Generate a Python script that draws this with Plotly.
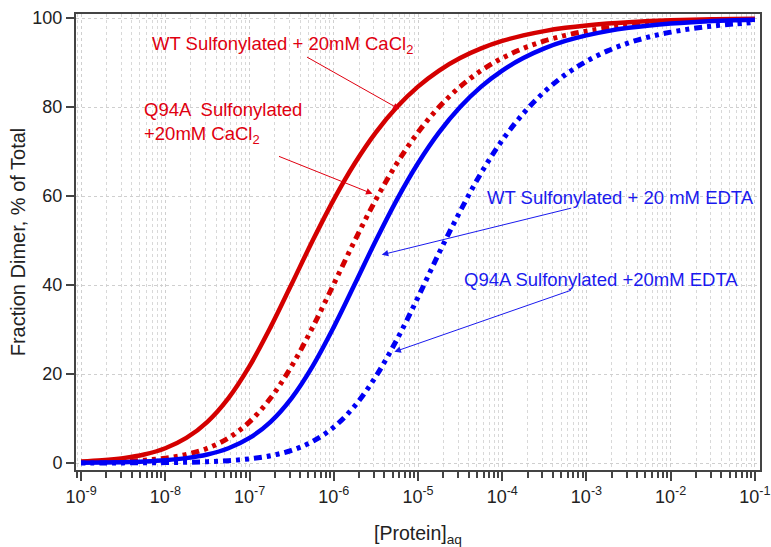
import plotly.graph_objects as go

# log10 of protein concentration (x grid)
log_conc = [-9 + 0.25 * i for i in range(33)]
conc = [10 ** v for v in log_conc]

# Fraction dimer (% of total)
wt_cacl2 = [0.353, 0.625, 1.10, 1.92, 3.32, 5.63, 9.26, 14.59, 21.77, 30.53, 40.21, 50.0,
            59.20, 67.36, 74.30, 80.0, 84.58, 88.19, 91.00, 93.17, 94.84, 96.10, 97.06,
            97.79, 98.34, 98.75, 99.06, 99.30, 99.47, 99.60, 99.70, 99.78, 99.83]
q94a_cacl2 = [0.112, 0.199, 0.353, 0.625, 1.10, 1.92, 3.32, 5.63, 9.26, 14.59, 21.77, 30.53,
              40.21, 50.0, 59.20, 67.36, 74.30, 80.0, 84.58, 88.19, 91.00, 93.17, 94.84,
              96.10, 97.06, 97.79, 98.34, 98.75, 99.06, 99.30, 99.47, 99.60, 99.70]
wt_edta = [0.063, 0.112, 0.199, 0.353, 0.625, 1.10, 1.92, 3.32, 5.63, 9.26, 14.59, 21.77,
           30.53, 40.21, 50.0, 59.20, 67.36, 74.30, 80.0, 84.58, 88.19, 91.00, 93.17,
           94.84, 96.10, 97.06, 97.79, 98.34, 98.75, 99.06, 99.30, 99.47, 99.60]
q94a_edta = [0.0094, 0.017, 0.031, 0.054, 0.095, 0.169, 0.300, 0.532, 0.936, 1.64, 2.85, 4.86,
             8.06, 12.85, 19.46, 27.77, 37.23, 47.2, 56.55, 65.2, 72.52, 78.55, 83.42,
             87.27, 90.29, 92.62, 94.42, 95.78, 96.82, 97.61, 98.20, 98.65, 98.98]

y_ticks = [0, 20, 40, 60, 80, 100]
x_tick_exponents = [-9, -8, -7, -6, -5, -4, -3, -2, -1]
x_tickvals = [10 ** e for e in x_tick_exponents]
x_ticktext = ["10<sup>%d</sup>" % e for e in x_tick_exponents]

RED = "#d40000"
BLUE = "#0000f5"
RED_TXT = "#e00010"
BLUE_TXT = "#1a1aee"
DOTDASH = "4px,5px,4px,5px,8px,5px"

fig = go.Figure()
fig.add_trace(go.Scatter(x=conc, y=wt_cacl2, mode="lines", line=dict(color=RED, width=4.5, shape="spline")))
fig.add_trace(go.Scatter(x=conc, y=q94a_cacl2, mode="lines", line=dict(color=RED, width=5, dash=DOTDASH, shape="spline")))
fig.add_trace(go.Scatter(x=conc, y=wt_edta, mode="lines", line=dict(color=BLUE, width=4.5, shape="spline")))
fig.add_trace(go.Scatter(x=conc, y=q94a_edta, mode="lines", line=dict(color=BLUE, width=5, dash=DOTDASH, shape="spline")))

font = "Arial, Liberation Sans, sans-serif"

# text labels (x in log10 units, y in %)
labels = [
    dict(x=-8.18, y=94.0, text="WT Sulfonylated + 20mM CaCl<sub>2</sub>", color=RED_TXT),
    dict(x=-8.28, y=76.5, text="Q94A  Sulfonylated<br>+20mM CaCl<sub>2</sub>", color=RED_TXT),
    dict(x=-4.205, y=59.6, text="WT Sulfonylated + 20 mM EDTA", color=BLUE_TXT),
    dict(x=-4.48, y=41.3, text="Q94A Sulfonylated +20mM EDTA", color=BLUE_TXT),
]
annotations = []
for lb in labels:
    annotations.append(dict(x=lb["x"], y=lb["y"], xref="x", yref="y", text=lb["text"],
                            showarrow=False, xanchor="left", yanchor="middle", align="left",
                            font=dict(family=font, size=18.5, color=lb["color"])))

# arrows: head (log10 x, y%) and tail offset in pixels
arrows = [
    dict(x=-5.22, y=79.5, ax=-94, ay=-53, color=RED_TXT),
    dict(x=-5.54, y=60.5, ax=-95, ay=-38, color=RED_TXT),
    dict(x=-5.43, y=46.8, ax=191, ay=-47, color=BLUE_TXT),
    dict(x=-5.28, y=25.0, ax=178, ay=-62, color=BLUE_TXT),
]
for a in arrows:
    annotations.append(dict(x=a["x"], y=a["y"], xref="x", yref="y", ax=a["ax"], ay=a["ay"],
                            text="", showarrow=True, arrowhead=2, arrowsize=1.3, arrowwidth=1,
                            arrowcolor=a["color"], standoff=0))

fig.update_layout(
    width=771, height=547,
    margin=dict(l=76, r=11, t=14, b=77),
    paper_bgcolor="white", plot_bgcolor="white",
    showlegend=False,
    font=dict(family=font, size=18, color="#222"),
    annotations=annotations,
)
fig.update_xaxes(
    type="log", range=[-9.06, -0.94], tickvals=x_tickvals, ticktext=x_ticktext,
    automargin=False,
    showline=True, linecolor="#444", linewidth=2, mirror=True,
    ticks="outside", ticklen=9, tickwidth=2, tickcolor="#444",
    showgrid=True, gridcolor="#cfcfcf", griddash="dot", gridwidth=1,
    minor=dict(ticks="outside", ticklen=6, tickwidth=2, tickcolor="#444",
               showgrid=True, gridcolor="#d8d8d8", griddash="dot", dtick="D1"),
    tickfont=dict(size=18, color="#222"),
    title=dict(text="[Protein]<sub>aq</sub>", font=dict(size=19.5, color="#222"), standoff=28),
    zeroline=False,
)
fig.update_yaxes(
    range=[-1.57, 100.9], tickvals=y_ticks,
    automargin=False,
    showline=True, linecolor="#444", linewidth=2, mirror=True,
    ticks="outside", ticklen=8, tickwidth=2, tickcolor="#444",
    showgrid=True, gridcolor="#cfcfcf", griddash="dot", gridwidth=1,
    tickfont=dict(size=18, color="#222"),
    title=dict(text="Fraction Dimer, % of Total", font=dict(size=20, color="#222"), standoff=1),
    zeroline=False,
)

fig.write_html("out.html", config={"displayModeBar": False},
               post_script="document.body.style.margin='0';document.body.style.overflow='hidden';")
